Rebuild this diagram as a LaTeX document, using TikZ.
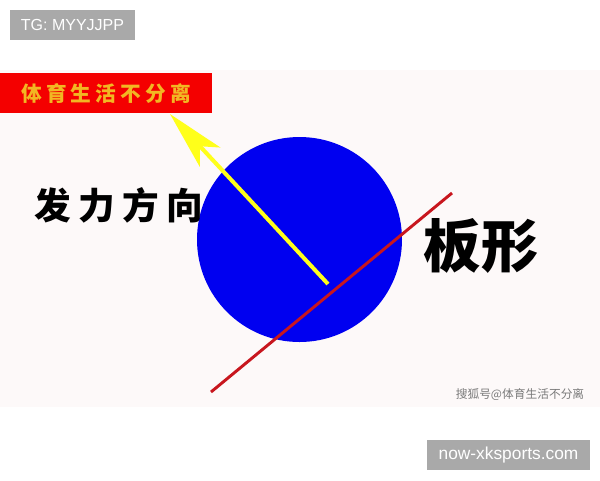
\documentclass[tikz,border=0pt]{standalone}
\usepackage{fontspec}
\usepackage{xcolor}
\setmainfont{Liberation Sans}
\newfontfamily\cjk{Noto Sans CJK SC}
\newfontfamily\cjkwide[LetterSpace=20]{Noto Sans CJK SC}
\usetikzlibrary{arrows.meta}

\definecolor{bgpink}{HTML}{FDF9F9}
\definecolor{tagbox}{HTML}{A9A9A9}
\definecolor{bannerred}{HTML}{F40000}
\definecolor{bannergold}{HTML}{F2B722}
\definecolor{ballblue}{HTML}{0000F0}
\definecolor{forceyellow}{HTML}{FFFF1A}
\definecolor{boardred}{HTML}{C8161E}
\definecolor{creditgray}{HTML}{7A7A7A}

\begin{document}
\begin{tikzpicture}[x=0.75pt,y=0.75pt,yscale=-1,xscale=1,
    tag/.style={fill=tagbox, text=white, inner sep=0pt, minimum height=22.5pt},
    bigword/.style={inner sep=0pt, text=black},
    force/.style={draw=forceyellow, line width=3pt,
        -{Stealth[length=44pt, width=21pt, inset=11pt]}},
    board/.style={draw=boardred, line width=2.2pt}]
    \useasboundingbox (0,0) rectangle (600,480);

    %Background
    \fill [bgpink] (0,70) rectangle (600,407);

    % Tag Nodes
    \node [tag, minimum width=93.75pt, font=\fontsize{12}{14}\selectfont] (tg) at (72.5,25) {TG: MYYJJPP};
    \node [tag, minimum width=122.25pt, font=\fontsize{13}{15}\selectfont] (site) at (508.5,455) {now-xksports.com};

    % Banner
    \node [fill=bannerred, minimum width=159pt, minimum height=30pt, inner sep=0pt,
        text=bannergold, font=\cjkwide\bfseries\fontsize{15.5}{17}\selectfont] (banner) at (106,93) {体育生活不分离};

    % Ball
    \node [circle, fill=ballblue, minimum size=153.75pt, inner sep=0pt] (ball) at (299.5,239.5) {};

    %Straight Lines
    \coordinate (hit) at (328,284);
    \coordinate (aim) at (170,114);
    \draw [force] (hit) -- (aim);
    %Straight Lines
    \coordinate (boardlow) at (211,392);
    \coordinate (boardhigh) at (452,193);
    \draw [board] (boardlow) -- (boardhigh);

    % Text Node
    \node [bigword, font=\cjkwide\bfseries\fontsize{27.5}{30}\selectfont] (forceword) at (119,205) {发力方向};
    % Text Node
    \node [bigword, font=\cjk\bfseries\fontsize{43}{46}\selectfont] (boardword) at (481,246) {板形};
    % Text Node
    \node [inner sep=0pt, text=creditgray, font=\cjk\fontsize{8.8}{10}\selectfont] (credit) at (520,395) {搜狐号@体育生活不分离};
\end{tikzpicture}
\end{document}
